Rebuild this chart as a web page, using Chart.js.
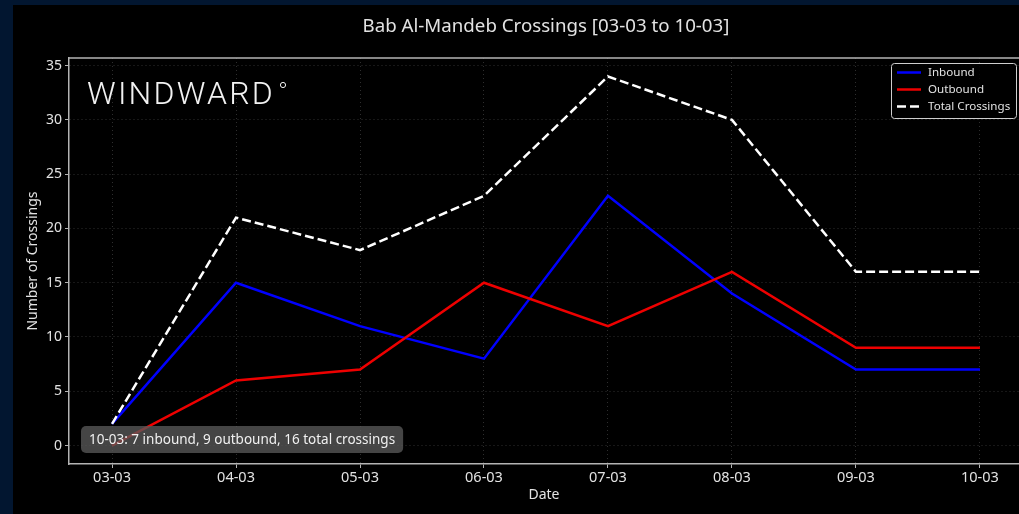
<!DOCTYPE html>
<html>
<head>
<meta charset="utf-8">
<script src="https://cdn.jsdelivr.net/npm/chart.js@4.4.1/dist/chart.umd.min.js"></script>
<style>
  html, body { margin: 0; padding: 0; background: #000; overflow: hidden; }
  canvas { display: block; }
</style>
</head>
<body>
<canvas id="c" width="1019" height="514"></canvas>
<script>
// Daily crossings through Bab Al-Mandeb
const dates    = ['03-03', '04-03', '05-03', '06-03', '07-03', '08-03', '09-03', '10-03'];
const inbound  = [2, 15, 11, 8, 23, 14, 7, 7];
const outbound = [0, 6, 7, 15, 11, 16, 9, 9];
const total    = [2, 21, 18, 23, 34, 30, 16, 16];
const yTicks   = [0, 5, 10, 15, 20, 25, 30, 35];

const chartTitle = 'Bab Al-Mandeb Crossings [03-03 to 10-03]';
const brand = 'WINDWARD';

const FONT = "'Noto Sans', 'Open Sans', sans-serif";
const NAVY = '#021630';
const SPINE = '#b4b4b4';
const TEXT = '#e2e2e2';

const toPoints = arr => arr.map((v, i) => ({ x: i, y: v }));

// Background, navy frame, top spine, title and brand mark
const backdrop = {
  id: 'backdrop',
  beforeDraw(chart) {
    const { ctx, width, height } = chart;
    ctx.save();
    ctx.fillStyle = '#000';
    ctx.fillRect(0, 0, width, height);
    ctx.fillStyle = NAVY;
    ctx.fillRect(0, 0, width, 5);
    ctx.fillRect(0, 0, 13, height);
    ctx.restore();
  },
  beforeDatasetsDraw(chart) {
    const { ctx, chartArea } = chart;
    ctx.save();
    ctx.strokeStyle = SPINE;
    ctx.lineWidth = 1.5;
    ctx.beginPath();
    ctx.moveTo(chartArea.left, chartArea.top);
    ctx.lineTo(chartArea.right, chartArea.top);
    ctx.stroke();

    // title centred over the axes
    ctx.fillStyle = TEXT;
    ctx.font = '18.7px ' + FONT;
    ctx.textAlign = 'center';
    ctx.textBaseline = 'middle';
    ctx.fillText(chartTitle, 546, 27);

    // brand mark
    ctx.font = '300 32px Roboto, ' + FONT;
    ctx.textAlign = 'left';
    ctx.textBaseline = 'alphabetic';
    ctx.letterSpacing = '2.2px';
    ctx.fillStyle = '#f2f2f2';
    ctx.fillText(brand, 87, 104);
    ctx.letterSpacing = '0px';
    ctx.strokeStyle = '#f2f2f2';
    ctx.lineWidth = 1;
    ctx.beginPath();
    ctx.arc(283, 85, 2.6, 0, Math.PI * 2);
    ctx.stroke();
    ctx.restore();
  }
};

// Legend box and latest-day summary label
const overlay = {
  id: 'overlay',
  afterDraw(chart) {
    const { ctx } = chart;
    ctx.save();

    // legend
    ctx.beginPath();
    ctx.roundRect(891.5, 63.5, 125, 55, 3);
    ctx.fillStyle = 'rgba(0,0,0,0.85)';
    ctx.fill();
    ctx.strokeStyle = '#cfcfcf';
    ctx.lineWidth = 1;
    ctx.stroke();
    ctx.font = '11.6px ' + FONT;
    ctx.textBaseline = 'middle';
    ctx.textAlign = 'left';
    chart.data.datasets.forEach((ds, i) => {
      const y = 72.5 + i * 17;
      ctx.strokeStyle = ds.borderColor;
      ctx.lineWidth = 2.5;
      ctx.setLineDash(ds.borderDash || []);
      ctx.beginPath();
      ctx.moveTo(897, y);
      ctx.lineTo(921, y);
      ctx.stroke();
      ctx.setLineDash([]);
      ctx.fillStyle = TEXT;
      ctx.fillText(ds.label, 928, y);
    });

    // summary of the last day
    const last = dates.length - 1;
    const msg = `${dates[last]}: ${inbound[last]} inbound, ${outbound[last]} outbound, ${total[last]} total crossings`;
    ctx.font = '13.5px ' + FONT;
    const w = ctx.measureText(msg).width;
    ctx.beginPath();
    ctx.roundRect(81, 426, w + 16, 27, 5);
    ctx.fillStyle = 'rgba(88,88,88,0.78)';
    ctx.fill();
    ctx.fillStyle = '#f0f0f0';
    ctx.fillText(msg, 89, 440);
    ctx.restore();
  }
};

new Chart(document.getElementById('c'), {
  type: 'line',
  data: {
    datasets: [
      { label: 'Inbound', data: toPoints(inbound), borderColor: '#0000ff', borderWidth: 2.5, order: 3 },
      { label: 'Outbound', data: toPoints(outbound), borderColor: '#ee0000', borderWidth: 2.5, order: 2 },
      { label: 'Total Crossings', data: toPoints(total), borderColor: '#ffffff', borderWidth: 2.5,
        borderDash: [9, 4], order: 1 }
    ]
  },
  options: {
    responsive: false,
    animation: false,
    events: [],
    layout: { padding: { top: 58, right: 0, left: 0, bottom: 0 } },
    elements: { point: { radius: 0 }, line: { tension: 0, borderCapStyle: 'butt' } },
    plugins: { legend: { display: false }, tooltip: { enabled: false }, title: { display: false } },
    scales: {
      x: {
        type: 'linear',
        min: -0.347,
        max: 7.315,
        afterBuildTicks: s => { s.ticks = dates.map((d, i) => ({ value: i })); },
        afterFit: s => { s.height = 50; },
        ticks: {
          callback: v => dates[v] ?? '',
          color: TEXT, font: { family: FONT, size: 14.5 }, padding: 1,
          autoSkip: false, maxRotation: 0
        },
        grid: { color: '#3a3a3a', lineWidth: 0.8, tickColor: SPINE, tickLength: 4, tickWidth: 1 },
        border: { color: SPINE, width: 1.5, dash: [1, 3] },
        title: { display: true, text: 'Date', color: TEXT, font: { family: FONT, size: 14 },
                 padding: { top: 0, bottom: 11 } }
      },
      y: {
        min: -1.7,
        max: 35.7,
        afterBuildTicks: s => { s.ticks = yTicks.map(v => ({ value: v })); },
        afterFit: s => { s.width = 69; },
        ticks: { color: TEXT, font: { family: FONT, size: 14 }, padding: 3 },
        grid: { color: '#3a3a3a', lineWidth: 0.8, tickColor: SPINE, tickLength: 4, tickWidth: 1 },
        border: { color: SPINE, width: 1.5, dash: [1, 3] },
        title: { display: true, text: 'Number of Crossings', color: TEXT, font: { family: FONT, size: 14 },
                 padding: { top: 25, bottom: 0 } }
      }
    }
  },
  plugins: [backdrop, overlay]
});
</script>
</body>
</html>
